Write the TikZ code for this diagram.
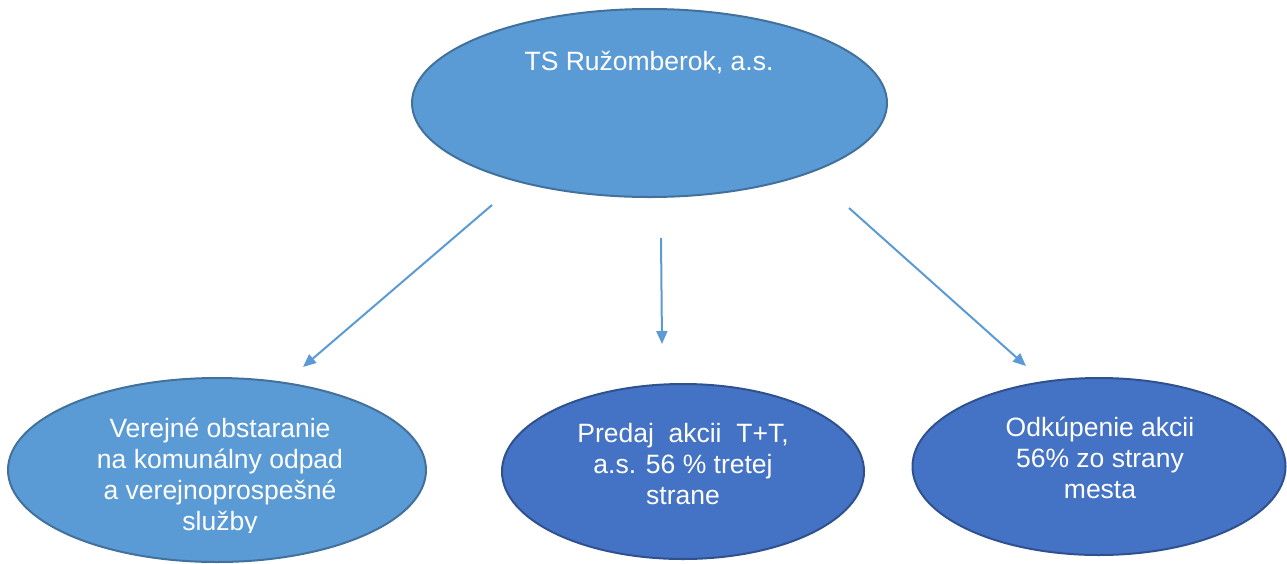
\documentclass[tikz,border=0pt]{standalone}
\usepackage{fontspec}
\setmainfont{Liberation Sans}
\usetikzlibrary{shapes.geometric,arrows.meta}
\definecolor{lightblue}{HTML}{5B9BD5}
\definecolor{lightedge}{HTML}{41719C}
\definecolor{darkblue}{HTML}{4472C4}
\definecolor{darkedge}{HTML}{2F528F}
\begin{document}
\begin{tikzpicture}[x=1pt,y=-1pt,
  oval/.style={ellipse, line width=2pt, inner sep=0pt, outer sep=0pt},
  light/.style={oval, fill=lightblue, draw=lightedge},
  dark/.style={oval, fill=darkblue, draw=darkedge},
  lbl/.style={text=white, font=\fontsize{26.5}{30.7}\selectfont, align=center, inner sep=0pt, anchor=base},
  conn/.style={draw=lightblue, line width=2pt, -{Triangle[length=13pt,width=11pt]}}]
\useasboundingbox (0,0) rectangle (1287,563);
% ellipses
\node[light, minimum width=475pt, minimum height=188pt] (top) at (649.5,103) {};
\node[light, minimum width=418pt, minimum height=184pt] (left) at (217,470) {};
\node[dark, minimum width=362pt, minimum height=175pt] (mid) at (683,471.5) {};
\node[dark, minimum width=373pt, minimum height=177pt] (right) at (1099,466.5) {};
% texts (base anchor = baseline of last line)
\node[lbl] (toptext) at (649,70) {TS Ružomberok, a.s.};
\begin{scope}
\clip (0,0) rectangle (1287,532);
\node[lbl] (lefttext) at (220,530) {Verejné obstaranie\\na komunálny odpad\\a verejnoprospešné\\služby};
\end{scope}
\node[lbl] (midtext) at (683,504) {Predaj\ \ akcii\ \ T+T,\\a.s. 56 \% tretej\\strane};
\node[lbl] (righttext) at (1100,498) {Odkúpenie akcii\\56\% zo strany\\mesta};
% connectors
\coordinate (a1s) at (492,205);
\coordinate (a1e) at (303,367);
\coordinate (a2s) at (661,238);
\coordinate (a2e) at (662,344);
\coordinate (a3s) at (849,208);
\coordinate (a3e) at (1026,366);
\draw[conn] (a1s) -- (a1e);
\draw[conn] (a2s) -- (a2e);
\draw[conn] (a3s) -- (a3e);
\end{tikzpicture}
\end{document}
